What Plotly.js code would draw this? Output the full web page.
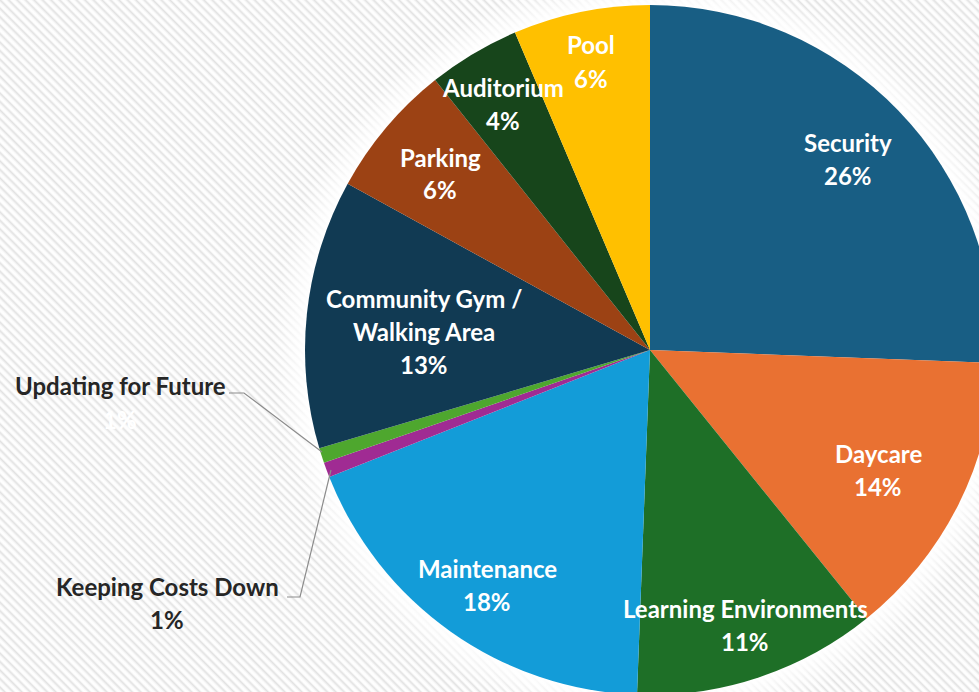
<!DOCTYPE html>
<html>
<head>
<meta charset="utf-8">
<script src="https://cdn.plot.ly/plotly-3.0.1.min.js"></script>
<style>
html, body {
  margin: 0; padding: 0; overflow: hidden; width: 979px; height: 692px;
  background:
    radial-gradient(circle at 650px 350px, rgba(255,255,255,1) 344px, rgba(255,255,255,0.75) 352px, rgba(255,255,255,0) 378px),
    repeating-linear-gradient(45deg, #ffffff 0px, #fbfbfb 1.5px, #e2e2e2 3.5px, #fbfbfb 5px, #ffffff 6px);
}
#chart { position: absolute; left: 0; top: 0; width: 1300px; height: 700px; }
</style>
</head>
<body>
<div id="chart"></div>
<script>
// ---- data ----
const categories = ["Security", "Daycare", "Learning Environments", "Maintenance",
  "Keeping Costs Down", "Updating for Future", "Community Gym /<br>Walking Area",
  "Parking", "Auditorium", "Pool"];
const shares = [25.6, 13.6, 11.4, 18.4, 0.7, 0.7, 12.6, 6.3, 4.3, 6.4];

// ---- styles ----
const sliceColors = ["#185E84", "#E97132", "#1E6F27", "#139CD8", "#A02B93", "#4EA72E",
  "#113A53", "#9C4214", "#17451B", "#FFC000"];

// label anchor positions in window pixels (center x, first line y)
const labelAnchors = [[848, 142], [878, 453], [745, 608], [487, 568], [167, 586], [120, 386],
  [424, 298], [440, 157], [503, 87], [591, 45]];
const labelColors = ["#fff", "#fff", "#fff", "#fff", "#262626", "#262626", "#fff", "#fff", "#fff", "#fff"];
const pctColors = ["#fff", "#fff", "#fff", "#fff", "#262626", "#ffffff", "#fff", "#fff", "#fff", "#fff"];

const W = 1300, H = 700, LINE = 33;
const px = x => x / W;
const py = y => 1 - y / H;

const total = shares.reduce((a, b) => a + b, 0);
const annotations = [];
categories.forEach((c, i) => {
  const lines = c.split("<br>");
  lines.push(Math.round(shares[i] / total * 100) + "%");
  lines.forEach((t, j) => {
    const isPct = j === lines.length - 1;
    annotations.push({
      xref: "paper", yref: "paper",
      x: px(labelAnchors[i][0]), y: py(labelAnchors[i][1] + j * LINE),
      xanchor: "center", yanchor: "middle", showarrow: false,
      text: "<b>" + t + "</b>",
      font: { family: "Lato, 'Open Sans', sans-serif", size: 24, color: isPct ? pctColors[i] : labelColors[i] }
    });
  });
});

const leader = pts => ({
  type: "path", xref: "paper", yref: "paper",
  path: pts.map((p, k) => (k ? "L" : "M") + px(p[0]) + "," + py(p[1])).join(" "),
  line: { color: "#8c8c8c", width: 1.2 }
});

const cx = 650, cy = 350, r = 345;
const data = [{
  type: "pie",
  labels: categories,
  values: shares,
  sort: false,
  direction: "clockwise",
  rotation: 0,
  textinfo: "none",
  hoverinfo: "label+percent",
  marker: { colors: sliceColors, line: { width: 0 } },
  domain: { x: [px(cx - r), px(cx + r)], y: [py(cy + r), py(cy - r)] },
  showlegend: false
}];

const layout = {
  width: W, height: H,
  margin: { l: 0, r: 0, t: 0, b: 0 },
  paper_bgcolor: "rgba(0,0,0,0)",
  plot_bgcolor: "rgba(0,0,0,0)",
  showlegend: false,
  annotations: annotations,
  shapes: [
    leader([[229, 393], [244, 393], [322, 452]]),
    leader([[287, 597], [300, 597], [331, 470]])
  ]
};

Plotly.newPlot("chart", data, layout, { displayModeBar: false, staticPlot: true });
</script>
</body>
</html>
